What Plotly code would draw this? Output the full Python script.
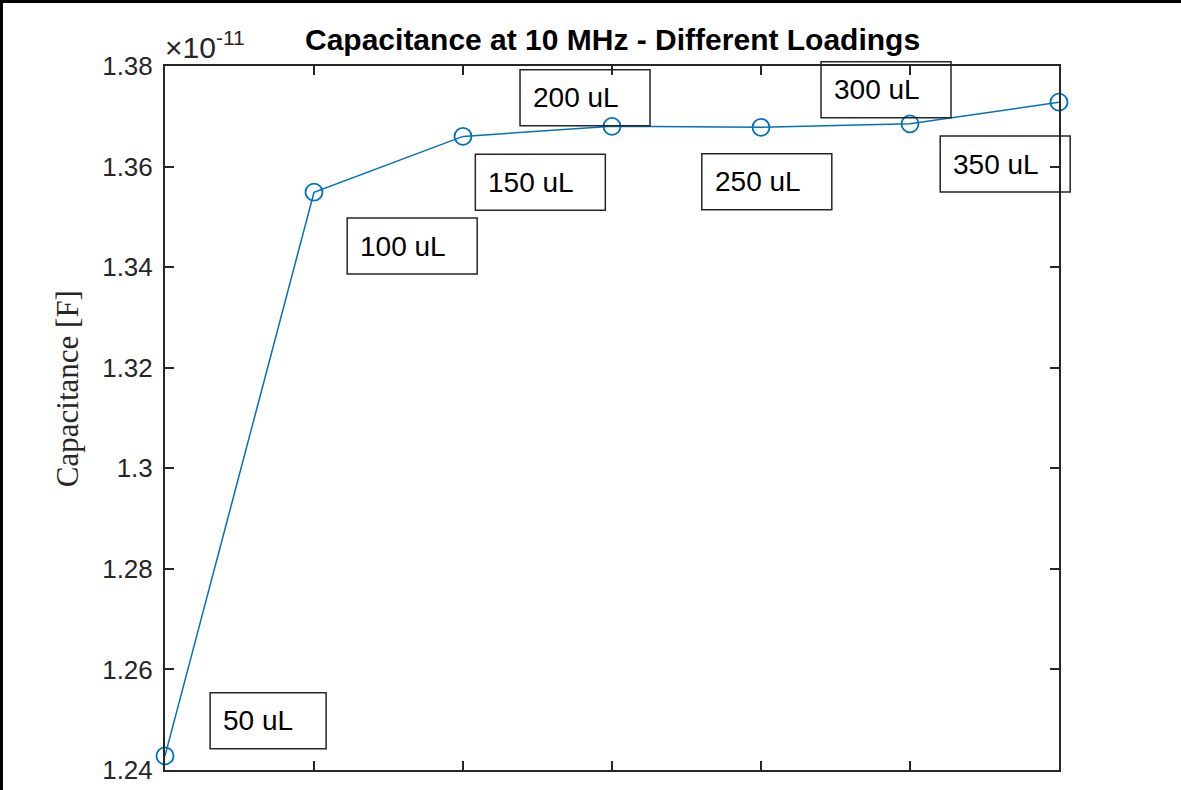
import plotly.graph_objects as go

# Measured capacitance at 10 MHz for each sample loading
volumes_ul = [50, 100, 150, 200, 250, 300, 350]
capacitance_f = [1.2428e-11, 1.3549e-11, 1.3660e-11, 1.3680e-11, 1.3678e-11, 1.3685e-11, 1.3728e-11]
point_labels = ["50 uL", "100 uL", "150 uL", "200 uL", "250 uL", "300 uL", "350 uL"]

x_tick_vals = [50, 100, 150, 200, 250, 300, 350]
x_tick_text = ["50", "100", "150", "200", "250", "300", "350"]
y_tick_vals = [1.24e-11, 1.26e-11, 1.28e-11, 1.30e-11, 1.32e-11, 1.34e-11, 1.36e-11, 1.38e-11]
y_tick_text = ["1.24", "1.26", "1.28", "1.3", "1.32", "1.34", "1.36", "1.38"]

# Where each text label starts (left edge, vertical centre), in data units
label_x = [69.5, 115.5, 158.5, 173.5, 234.5, 274.5, 314.5]
label_y = [1.2498e-11, 1.3442e-11, 1.3569e-11, 1.3737e-11, 1.3570e-11, 1.3753e-11, 1.3605e-11]

X_RANGE = [50, 350]
Y_RANGE = [1.24e-11, 1.38e-11]

AXIS_COLOR = "#262626"
LINE_COLOR = "#0072BD"
SANS = "Liberation Sans, Arial, sans-serif"
SERIF = "Liberation Serif, Times New Roman, serif"


def to_paper(v, rng):
    return (v - rng[0]) / (rng[1] - rng[0])


fig = go.Figure()
fig.add_trace(go.Scatter(
    x=volumes_ul,
    y=capacitance_f,
    mode="lines+markers",
    line=dict(color=LINE_COLOR, width=1.5),
    marker=dict(symbol="circle-open", size=17, color=LINE_COLOR, line=dict(width=1.8)),
    cliponaxis=False,
    showlegend=False,
))

axis_common = dict(
    showline=True, linecolor=AXIS_COLOR, linewidth=2, mirror="ticks",
    ticks="inside", ticklen=9, tickwidth=2, tickcolor=AXIS_COLOR,
    showgrid=False, zeroline=False, automargin=False,
    tickfont=dict(family=SANS, size=26, color=AXIS_COLOR),
)

fig.update_xaxes(range=X_RANGE, tickvals=x_tick_vals, ticktext=x_tick_text,
                 ticklabelstandoff=16, **axis_common)
fig.update_yaxes(range=Y_RANGE, tickvals=y_tick_vals, ticktext=y_tick_text,
                 ticklabelstandoff=5, **axis_common)

shapes = []
annotations = []

# Boxed labels next to the points
for text, lx, ly in zip(point_labels, label_x, label_y):
    px = to_paper(lx, X_RANGE)
    py = to_paper(ly, Y_RANGE)
    box_w = 116 if len(text) == 5 else 130
    shapes.append(dict(
        type="rect", xref="paper", yref="paper",
        xsizemode="pixel", ysizemode="pixel",
        xanchor=px, yanchor=py,
        x0=-13, x1=box_w - 13, y0=-28, y1=28,
        line=dict(color="#262626", width=1.5), fillcolor="rgba(0,0,0,0)",
        layer="above",
    ))
    annotations.append(dict(
        text=text, xref="paper", yref="paper", x=px, y=py,
        xanchor="left", yanchor="middle", showarrow=False,
        borderpad=0, borderwidth=0,
        font=dict(family=SANS, size=28, color="#000000"),
    ))

# Outer frame along the top and left edges
shapes.append(dict(type="path", xref="paper", yref="paper",
                   path="M -0.1829,-0.03 L -0.1829,1.0916 L 1.137,1.0916",
                   line=dict(color="#000000", width=3)))

# Title, y-axis label and exponent
annotations.append(dict(
    text="Capacitance at 10 MHz - Different Loadings", xref="paper", yref="paper",
    x=0.5, y=1.0379, xanchor="center", yanchor="middle", showarrow=False,
    borderpad=0, borderwidth=0,
    font=dict(family=SANS, size=30, color="#000000", weight="bold"),
))
annotations.append(dict(
    text="Capacitance [F]", xref="paper", yref="paper",
    x=-0.1096, y=0.541, xanchor="center", yanchor="middle", textangle=-90,
    showarrow=False, borderpad=0, borderwidth=0,
    font=dict(family=SERIF, size=31, color=AXIS_COLOR),
))
annotations.append(dict(
    text="×10<sup>-11</sup>", xref="paper", yref="paper",
    x=0.0, y=1.0028, xanchor="left", yanchor="bottom", showarrow=False,
    borderpad=0, borderwidth=0,
    font=dict(family=SANS, size=30, color=AXIS_COLOR),
))

fig.update_layout(
    width=1181, height=790,
    margin=dict(l=165, r=122, t=66, b=20),
    paper_bgcolor="#ffffff", plot_bgcolor="#ffffff",
    shapes=shapes, annotations=annotations,
)

fig.write_html("out.html")
